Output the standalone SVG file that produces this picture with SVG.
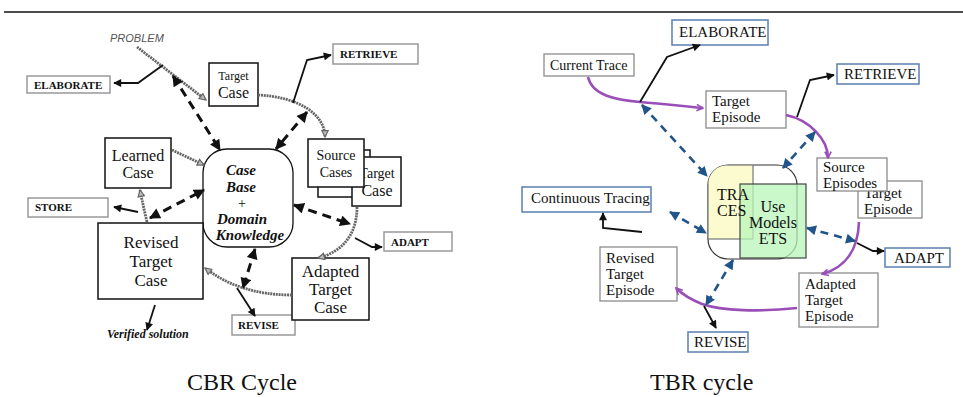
<svg xmlns="http://www.w3.org/2000/svg" width="963" height="397" viewBox="0 0 963 397" font-family="Liberation Serif, Times New Roman, serif">
  <style>
    text { font-family: "Liberation Serif", "Times New Roman", serif; }
    .nt { font-family: "Liberation Serif", "Times New Roman", serif; fill: #111; }
    .lbl { font-weight: bold; font-size: 11px; fill: #111; }
    .tl { font-size: 15px; fill: #111; }
    .kb { font-weight: bold; font-style: italic; font-size: 15px; fill: #111; }
    .cbox { fill: #fff; stroke: #111; stroke-width: 1.5; }
    .gbox { fill: #fff; stroke: #999; stroke-width: 1.5; }
    .tbox { fill: #fff; stroke: #8c8c8c; stroke-width: 1.3; }
    .bbox { fill: #fff; stroke: #5b7fb0; stroke-width: 1.5; }
    .hatch { fill: none; stroke: #666; stroke-width: 2.8; stroke-dasharray: 2 0.8; }
    .solid { fill: none; stroke: #111; stroke-width: 1.8; }
    .bdash { fill: none; stroke: #111; stroke-width: 3; stroke-dasharray: 9 6; }
    .udash { fill: none; stroke: #21558a; stroke-width: 2.6; stroke-dasharray: 8 6; }
    .purple { fill: none; stroke: #9a4fb8; stroke-width: 2.6; }
    .s12 { font-size: 12px; }
    .s14 { font-size: 14px; }
    .s16 { font-size: 16px; }
    .s17 { font-size: 17px; }
    .s24 { font-size: 24px; }
  </style>
  <defs>
    <marker id="arrK" viewBox="0 0 10 10" refX="9" refY="5" markerWidth="10" markerHeight="8" markerUnits="userSpaceOnUse" orient="auto-start-reverse">
      <path d="M0,0 L10,5 L0,10 Z" fill="#111"/>
    </marker>
    <marker id="arrKD" viewBox="0 0 10 10" refX="9" refY="5" markerWidth="12" markerHeight="11" markerUnits="userSpaceOnUse" orient="auto-start-reverse">
      <path d="M0,0 L10,5 L0,10 Z" fill="#111"/>
    </marker>
    <marker id="arrG" viewBox="0 0 10 10" refX="9" refY="5" markerWidth="9" markerHeight="8" markerUnits="userSpaceOnUse" orient="auto">
      <path d="M1,1 L9,5 L1,9 Z" fill="#bbb" stroke="#666" stroke-width="1.5"/>
    </marker>
    <marker id="arrU" viewBox="0 0 10 10" refX="9" refY="5" markerWidth="11" markerHeight="10" markerUnits="userSpaceOnUse" orient="auto-start-reverse">
      <path d="M0,0 L10,5 L0,10 Z" fill="#21558a"/>
    </marker>
    <marker id="arrP" viewBox="0 0 10 10" refX="9" refY="5" markerWidth="9" markerHeight="8" markerUnits="userSpaceOnUse" orient="auto">
      <path d="M1,1 L9,5 L1,9" fill="none" stroke="#9a4fb8" stroke-width="2"/>
    </marker>
    <clipPath id="kbClip">
      <rect x="708" y="165" width="89" height="94" rx="20"/>
    </clipPath>
  </defs>

  <!-- top rule -->
  <line x1="4" y1="12" x2="963" y2="12" stroke="#111" stroke-width="1.5"/>

  <!-- ================= CBR cycle ================= -->
  <g id="cbr-nodes">
    <text x="110" y="42" style="font-family: 'Liberation Sans', Arial, sans-serif" font-style="italic" font-size="11" fill="#555">PROBLEM</text>

    <g id="cbr-elaborate">
      <rect class="gbox" x="27" y="76" width="83" height="17"/>
      <text class="lbl" x="34" y="88.5">ELABORATE</text>
    </g>
    <g id="cbr-retrieve">
      <rect class="gbox" x="333" y="44" width="85" height="20"/>
      <text class="lbl" x="340" y="58">RETRIEVE</text>
    </g>
    <g id="cbr-store">
      <rect class="gbox" x="28" y="198" width="80" height="19"/>
      <text class="lbl" x="35" y="211">STORE</text>
    </g>
    <g id="cbr-adapt">
      <rect class="gbox" x="384" y="232" width="68" height="19"/>
      <text class="lbl" x="391" y="246">ADAPT</text>
    </g>
    <g id="cbr-revise">
      <rect class="gbox" x="232" y="315" width="63" height="20"/>
      <text class="lbl" x="238" y="329">REVISE</text>
    </g>

    <g id="cbr-target-case">
      <rect class="cbox" x="209" y="63" width="49" height="43"/>
      <text class="nt s12" x="233.5" y="80" text-anchor="middle">Target</text>
      <text class="nt s16" x="233.5" y="98" text-anchor="middle">Case</text>
    </g>

    <g id="cbr-learned-case">
      <rect class="cbox" x="105" y="138" width="66" height="50"/>
      <text class="nt s16" x="138" y="161" text-anchor="middle">Learned</text>
      <text class="nt s16" x="138" y="178" text-anchor="middle">Case</text>
    </g>

    <g id="cbr-case-base">
      <rect x="203" y="149" width="90" height="98" rx="24" fill="#fff" stroke="#111" stroke-width="1.3"/>
      <text class="kb" x="241" y="175" text-anchor="middle">Case</text>
      <text class="kb" x="241" y="192" text-anchor="middle">Base</text>
      <text class="nt s14" x="242" y="208" text-anchor="middle">+</text>
      <text class="kb" x="242" y="224" text-anchor="middle">Domain</text>
      <text class="kb" x="250" y="240" text-anchor="middle">Knowledge</text>
    </g>

    <g id="cbr-source-cases">
      <rect class="cbox" x="318" y="150" width="52" height="47"/>
      <rect class="cbox" x="352" y="157" width="49" height="49"/>
      <text class="nt s14" x="377" y="178" text-anchor="middle">Target</text>
      <text class="nt s16" x="377" y="196" text-anchor="middle">Case</text>
      <rect class="cbox" x="308" y="139" width="56" height="48"/>
      <text class="nt s14" x="336" y="160" text-anchor="middle">Source</text>
      <text class="nt s14" x="336" y="177" text-anchor="middle">Cases</text>
    </g>

    <g id="cbr-revised-case">
      <rect class="cbox" x="98" y="223" width="105" height="76"/>
      <text class="nt s17" x="151" y="248" text-anchor="middle">Revised</text>
      <text class="nt s17" x="151" y="267" text-anchor="middle">Target</text>
      <text class="nt s17" x="151" y="286" text-anchor="middle">Case</text>
    </g>

    <g id="cbr-adapted-case">
      <rect class="cbox" x="292" y="258" width="77" height="62"/>
      <text class="nt s17" x="330.5" y="277" text-anchor="middle">Adapted</text>
      <text class="nt s17" x="330.5" y="295" text-anchor="middle">Target</text>
      <text class="nt s17" x="330.5" y="313" text-anchor="middle">Case</text>
    </g>

    <text class="nt s12" x="107" y="338" font-weight="bold" font-style="italic">Verified solution</text>
  </g>

  <g id="cbr-connectors">
    <path class="hatch" d="M137,47 L206,100" marker-end="url(#arrG)"/>
    <path class="solid" d="M163,65 L138,83 L114,83" marker-end="url(#arrK)"/>
    <path class="bdash" d="M173,76 L220,150" marker-start="url(#arrKD)" marker-end="url(#arrKD)"/>
    <path class="hatch" d="M258,95 C300,97 325,115 325,137" marker-end="url(#arrG)"/>
    <path class="solid" d="M293,103 L307,60 L331,55" marker-end="url(#arrK)"/>
    <path class="bdash" d="M307,112 L276,149" marker-start="url(#arrKD)" marker-end="url(#arrKD)"/>
    <path class="hatch" d="M172,150 L204,165" marker-end="url(#arrG)"/>
    <path class="hatch" d="M357,207 C357,235 342,252 318,258" marker-end="url(#arrG)"/>
    <path class="solid" d="M355,238 L372,247 L382,247" marker-end="url(#arrK)"/>
    <path class="bdash" d="M294,205 L350,224" marker-start="url(#arrKD)" marker-end="url(#arrKD)"/>
    <path class="hatch" d="M292,295 Q240,295 205,268" marker-end="url(#arrG)"/>
    <path class="solid" d="M237,288 L255,316" marker-end="url(#arrK)"/>
    <path class="bdash" d="M255,249 L243,288" marker-start="url(#arrKD)" marker-end="url(#arrKD)"/>
    <path class="hatch" d="M147,222 Q143,205 140,190" marker-end="url(#arrG)"/>
    <path class="solid" d="M138,212 L114,207" marker-end="url(#arrK)"/>
    <path class="bdash" d="M150,218 L204,190" marker-start="url(#arrKD)" marker-end="url(#arrKD)"/>
    <path class="solid" d="M155,305 L147,330" stroke-width="2.2" marker-end="url(#arrK)"/>
  </g>

  <!-- ================= TBR cycle ================= -->
  <g id="tbr-nodes">
    <g id="tbr-elaborate">
      <rect class="bbox" x="672" y="20" width="96" height="25"/>
      <text class="tl" x="679" y="37">ELABORATE</text>
    </g>
    <g id="tbr-current-trace">
      <rect class="tbox" x="544" y="54" width="90" height="22"/>
      <text class="nt s14" x="550" y="70">Current Trace</text>
    </g>
    <g id="tbr-retrieve">
      <rect class="bbox" x="837" y="64" width="82" height="20"/>
      <text class="tl" x="844" y="79">RETRIEVE</text>
    </g>
    <g id="tbr-target-episode">
      <rect class="tbox" x="706" y="91" width="80" height="37"/>
      <text class="tl" x="712" y="106">Target</text>
      <text class="tl" x="712" y="122">Episode</text>
    </g>
    <g id="tbr-source-episodes">
      <rect class="tbox" x="858" y="181" width="64" height="37"/>
      <text class="tl" x="864" y="198">Target</text>
      <text class="tl" x="864" y="214">Episode</text>
      <rect class="tbox" x="817" y="158" width="70" height="33"/>
      <text class="tl" x="823" y="172">Source</text>
      <text class="tl" x="823" y="188">Episodes</text>
    </g>
    <g id="tbr-continuous-tracing">
      <rect class="bbox" x="522" y="187" width="129" height="25"/>
      <text class="tl" x="531" y="203">Continuous Tracing</text>
    </g>
    <g id="tbr-knowledge">
      <rect x="708" y="165" width="89" height="94" rx="20" fill="#fff" stroke="#333" stroke-width="1.2"/>
      <rect x="708" y="165" width="45" height="74" fill="#fbfbcf" stroke="#777" stroke-width="1.2" clip-path="url(#kbClip)"/>
      <rect x="740" y="184" width="66" height="74" fill="#b8f5b8" fill-opacity="0.75" stroke="#444" stroke-width="1.2"/>
      <text class="nt s16" x="717" y="200">TRA</text>
      <text class="nt s16" x="717" y="216">CES</text>
      <text class="nt s16" x="773" y="212" text-anchor="middle">Use</text>
      <text class="nt s16" x="773" y="228" text-anchor="middle">Models</text>
      <text class="nt s16" x="773" y="244" text-anchor="middle">ETS</text>
    </g>
    <g id="tbr-adapt">
      <rect class="bbox" x="885" y="248" width="65" height="19"/>
      <text class="tl" x="894" y="263">ADAPT</text>
    </g>
    <g id="tbr-revised-episode">
      <rect class="tbox" x="600" y="247" width="77" height="54"/>
      <text class="tl" x="606" y="263">Revised</text>
      <text class="tl" x="606" y="279">Target</text>
      <text class="tl" x="606" y="295">Episode</text>
    </g>
    <g id="tbr-adapted-episode">
      <rect class="tbox" x="799" y="273" width="79" height="54"/>
      <text class="tl" x="805" y="289">Adapted</text>
      <text class="tl" x="805" y="305">Target</text>
      <text class="tl" x="805" y="321">Episode</text>
    </g>
    <g id="tbr-revise">
      <rect class="bbox" x="688" y="332" width="60" height="20"/>
      <text class="tl" x="694" y="347">REVISE</text>
    </g>
  </g>

  <g id="tbr-connectors">
    <path class="purple" d="M588,77 C592,95 615,100 640,102 S690,107 703,108" marker-end="url(#arrP)"/>
    <path class="solid" d="M640,102 L667,57 L700,45" marker-end="url(#arrK)"/>
    <path class="udash" d="M642,105 L707,176" marker-start="url(#arrU)" marker-end="url(#arrU)"/>
    <path class="purple" d="M786,115 C810,120 828,140 828,158" marker-end="url(#arrP)"/>
    <path class="solid" d="M797,117 L810,80 L834,75" marker-end="url(#arrK)"/>
    <path class="udash" d="M815,132 L783,168" marker-start="url(#arrU)" marker-end="url(#arrU)"/>
    <path class="purple" d="M859,222 C858,250 845,268 822,274" marker-end="url(#arrP)"/>
    <path class="solid" d="M857,243 L873,251 L884,251" marker-end="url(#arrK)"/>
    <path class="udash" d="M807,228 L855,241" marker-start="url(#arrU)" marker-end="url(#arrU)"/>
    <path class="purple" d="M797,308 C760,312 722,311 702,304 C692,300 683,295 676,288" marker-end="url(#arrP)"/>
    <path class="solid" d="M704,306 L716,328" marker-end="url(#arrK)"/>
    <path class="udash" d="M733,260 L706,305" marker-start="url(#arrU)" marker-end="url(#arrU)"/>
    <path class="solid" d="M642,232 L603,228 L603,213" marker-end="url(#arrK)"/>
    <path class="udash" d="M670,212 L706,233" marker-start="url(#arrU)" marker-end="url(#arrU)"/>
  </g>

  <!-- captions -->
  <text class="nt s24" x="187" y="390">CBR Cycle</text>
  <text class="nt s24" x="650" y="390">TBR cycle</text>
</svg>
